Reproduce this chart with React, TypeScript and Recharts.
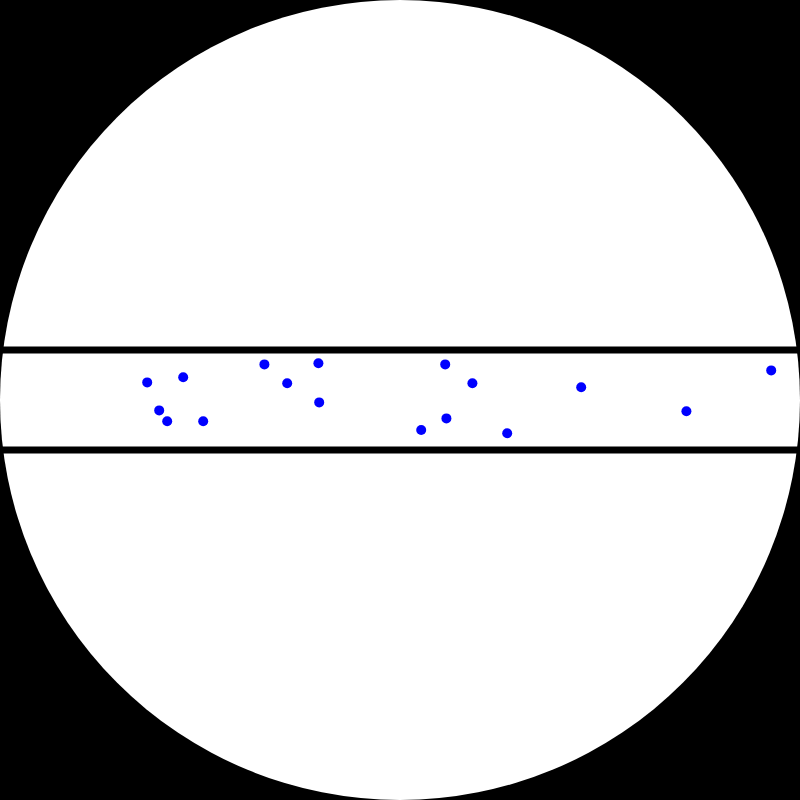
import {
  ReferenceDot,
  Scatter,
  ScatterChart,
  XAxis,
  YAxis,
} from "recharts";

// point positions on a unit disc (x, y in [-1, 1])
const xs = [
  -0.632, -0.542, -0.602, -0.582, -0.492, -0.339, -0.282, -0.204, -0.202,
  0.113, 0.181, 0.453, 0.116, 0.053, 0.268, 0.928, 0.716,
];
const ys = [
  0.044, 0.057, -0.026, -0.053, -0.053, 0.089, 0.042, 0.092, -0.006,
  0.089, 0.042, 0.032, -0.046, -0.075, -0.083, 0.074, -0.028,
];
const bandEdges = [0.125, -0.125];

const points = xs.map((x, i) => ({ x, y: ys[i] }));

export default function App() {
  return (
    <div style={{ position: "fixed", top: 0, left: 0 }}>
      <ScatterChart
        width={800}
        height={800}
        margin={{ top: 0, right: 0, bottom: 0, left: 0 }}
        style={{ background: "#000" }}
      >
        <XAxis type="number" dataKey="x" domain={[-1, 1]} hide />
        <YAxis type="number" dataKey="y" domain={[-1, 1]} hide width={0} />
        <ReferenceDot x={0} y={0} r={400} fill="#fff" stroke="none" ifOverflow="visible" />
        {bandEdges.map((v) => (
          <Scatter
            key={v}
            data={[
              { x: -1, y: v },
              { x: 1, y: v },
            ]}
            line={{ stroke: "#000", strokeWidth: 7 }}
            shape={() => <g />}
            isAnimationActive={false}
          />
        ))}
        <Scatter
          data={points}
          isAnimationActive={false}
          shape={(p: any) => <circle cx={p.cx} cy={p.cy} r={5} fill="#0000ff" />}
        />
      </ScatterChart>
    </div>
  );
}
